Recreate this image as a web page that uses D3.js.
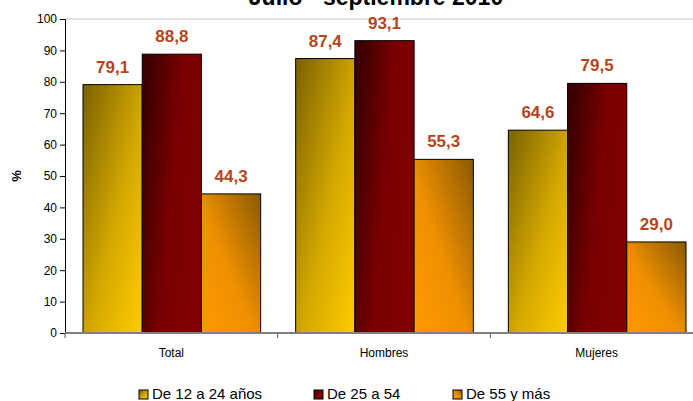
<!DOCTYPE html>
<html>
<head>
<meta charset="utf-8">
<script src="https://cdn.jsdelivr.net/npm/d3@7"></script>
<style>
  body { margin: 0; background: #fff; }
  svg { display: block; font-family: Arial, "Liberation Sans", sans-serif; }
</style>
</head>
<body>
<div id="chart"></div>
<script>
const categories = ["Total", "Hombres", "Mujeres"];
const seriesNames = ["De 12 a 24 años", "De 25 a 54", "De 55 y más"];
const values = [
  [79.1, 87.4, 64.6],
  [88.8, 93.1, 79.5],
  [44.3, 55.3, 29.0]
];
const yTicks = [0, 10, 20, 30, 40, 50, 60, 70, 80, 90, 100];

const width = 693, height = 401;
const margin = {top: 19, right: -10, bottom: 68, left: 65};

const svg = d3.select("#chart").append("svg")
  .attr("width", width)
  .attr("height", height);

// gradients, one per series
const defs = svg.append("defs");
const grads = [
  {id: "g0", x1: 0, y1: 0, x2: 1, y2: 1, stops: [["0%", "#7a6200"], ["55%", "#d4a800"], ["100%", "#ffcc00"]]},
  {id: "g1", x1: 0, y1: 0.3, x2: 1, y2: 0.7, stops: [["0%", "#3c0000"], ["50%", "#7a0000"], ["100%", "#800000"]]},
  {id: "g2", x1: 0, y1: 1, x2: 1, y2: 0, stops: [["0%", "#ff9900"], ["45%", "#f09000"], ["100%", "#8a5a00"]]}
];
grads.forEach(g => {
  let lg = defs.append("linearGradient").attr("id", g.id)
    .attr("x1", g.x1).attr("y1", g.y1).attr("x2", g.x2).attr("y2", g.y2);
  g.stops.forEach(s => lg.append("stop").attr("offset", s[0]).attr("stop-color", s[1]));
});

const plotW = width - margin.left - margin.right;
const plotH = height - margin.top - margin.bottom;

const x = d3.scaleBand().domain(categories).range([margin.left, margin.left + plotW]).paddingInner(0).paddingOuter(0);
const xs = d3.scaleBand().domain(d3.range(seriesNames.length)).range([18, x.bandwidth() - 17]);
const y = d3.scaleLinear().domain([0, 100]).range([margin.top + plotH, margin.top]);

// title (cut at the top, like the original)
svg.append("text")
  .attr("x", 376).attr("y", 5)
  .attr("text-anchor", "middle")
  .attr("font-size", 23).attr("font-weight", "bold")
  .text("Julio - septiembre  2010");

// top border of plot
svg.append("line")
  .attr("x1", margin.left).attr("x2", width)
  .attr("y1", y(100)).attr("y2", y(100))
  .attr("stroke", "#c8c8c8");

// bars
categories.forEach((c, ci) => {
  const g = svg.append("g").attr("transform", `translate(${x(c)},0)`);
  values.forEach((vals, si) => {
    g.append("rect")
      .attr("x", xs(si))
      .attr("y", y(vals[ci]))
      .attr("width", xs.bandwidth())
      .attr("height", y(0) - y(vals[ci]))
      .attr("fill", `url(#g${si})`)
      .attr("stroke", "#000")
      .attr("stroke-width", 1);
    g.append("text")
      .attr("x", xs(si) + xs.bandwidth() / 2)
      .attr("y", y(vals[ci]) - 12)
      .attr("text-anchor", "middle")
      .attr("font-size", 17).attr("font-weight", "bold")
      .attr("fill", "#b5451b")
      .text(d3.format(".1f")(vals[ci]).replace(".", ","));
  });
});

// y axis
const yAxis = svg.append("g")
  .attr("transform", `translate(${margin.left},0)`)
  .call(d3.axisLeft(y).tickValues(yTicks).tickSize(5).tickPadding(3));
yAxis.select(".domain").attr("stroke", "#000");
yAxis.selectAll(".tick line").attr("stroke", "#000");
yAxis.selectAll("text").attr("font-size", 12).attr("font-family", "Arial, sans-serif").attr("fill", "#000");

// x axis
const xAxisY = y(0);
svg.append("line")
  .attr("x1", margin.left).attr("x2", width)
  .attr("y1", xAxisY).attr("y2", xAxisY)
  .attr("stroke", "#808080").attr("stroke-width", 2);
categories.forEach((c, i) => {
  svg.append("line")
    .attr("x1", x(c)).attr("x2", x(c))
    .attr("y1", xAxisY).attr("y2", xAxisY + 5)
    .attr("stroke", "#555");
  svg.append("text")
    .attr("x", x(c) + x.bandwidth() / 2)
    .attr("y", xAxisY + 24)
    .attr("text-anchor", "middle")
    .attr("font-size", 12)
    .text(c);
});

// y label
svg.append("text")
  .attr("transform", `translate(21,${margin.top + plotH / 2}) rotate(-90)`)
  .attr("text-anchor", "middle")
  .attr("font-size", 13).attr("font-weight", "bold")
  .text("%");

// legend
const legendX = [139, 314, 453];
seriesNames.forEach((s, i) => {
  const lg = svg.append("g").attr("transform", `translate(${legendX[i]},390)`);
  lg.append("rect")
    .attr("width", 9).attr("height", 9)
    .attr("fill", `url(#g${i})`)
    .attr("stroke", "#000");
  lg.append("text")
    .attr("x", 13).attr("y", 8.5)
    .attr("font-size", 15)
    .text(s);
});
</script>
</body>
</html>
